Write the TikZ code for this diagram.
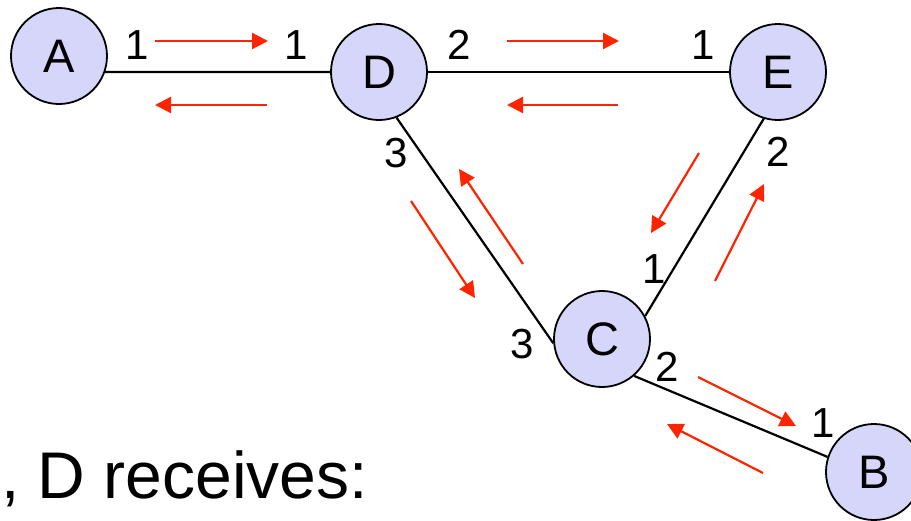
\documentclass[tikz,border=0pt]{standalone}
\usepackage{fontspec}
\setmainfont{Liberation Sans}
\usetikzlibrary{arrows.meta}
\definecolor{nodefill}{RGB}{213,214,250}
\definecolor{arrowred}{RGB}{255,36,0}
\tikzset{
  router/.style={circle, draw=black, line width=1.8pt, fill=nodefill, minimum size=96pt, inner sep=0pt, font=\fontsize{47}{50}\selectfont},
  link/.style={draw=black, line width=2.2pt},
  portlbl/.style={inner sep=0pt, font=\fontsize{42}{44}\selectfont},
  msg/.style={draw=arrowred, line width=2.2pt, -{Triangle[length=16pt,width=16pt]}},
}
\begin{document}
\begin{tikzpicture}[x=1pt,y=-1pt]
\useasboundingbox (0,0) rectangle (911,520);
% nodes
\node[router] (A) at (59,56) {A};
\node[router] (D) at (379,72) {D};
\node[router] (E) at (778,72) {E};
\node[router] (C) at (602,339) {C};
\node[router] (B) at (874,472) {B};
% links
\draw[link] (A.-19) -- (D.west);
\draw[link] (D.east) -- (E.west);
\draw[link] (D.-69) -- (C.185);
\draw[link] (E.-107) -- (C.28);
\draw[link] (C.-49) -- (B.162);
% port labels
\node[portlbl] (pAD) at (137,45) {1};
\node[portlbl] (pDA) at (296,45) {1};
\node[portlbl] (pDE) at (459,45) {2};
\node[portlbl] (pED) at (703,45) {1};
\node[portlbl] (pDC) at (396,153) {3};
\node[portlbl] (pEC) at (778,152) {2};
\node[portlbl] (pCE) at (654,269) {1};
\node[portlbl] (pCD) at (522,344) {3};
\node[portlbl] (pCB) at (667,367) {2};
\node[portlbl] (pBC) at (823,423) {1};
% message arrows
\coordinate (m1s) at (155,41);  \coordinate (m1e) at (268,41);
\coordinate (m2s) at (267,105); \coordinate (m2e) at (155,105);
\coordinate (m3s) at (507,41);  \coordinate (m3e) at (619,41);
\coordinate (m4s) at (618,105); \coordinate (m4e) at (507,105);
\coordinate (m5s) at (411,201); \coordinate (m5e) at (475,298);
\coordinate (m6s) at (523,264); \coordinate (m6e) at (459,169);
\coordinate (m7s) at (699,153); \coordinate (m7e) at (651,233);
\coordinate (m8s) at (715,281); \coordinate (m8e) at (764,184);
\coordinate (m9s) at (698,377); \coordinate (m9e) at (796,426);
\coordinate (m10s) at (763,473); \coordinate (m10e) at (667,424);
\foreach \i in {1,...,10} \draw[msg] (m\i s) -- (m\i e);
% caption fragment
\node[anchor=base west, inner sep=0pt, font=\fontsize{66}{70}\selectfont] (cap) at (1,498) {, D receives:};
\end{tikzpicture}
\end{document}
